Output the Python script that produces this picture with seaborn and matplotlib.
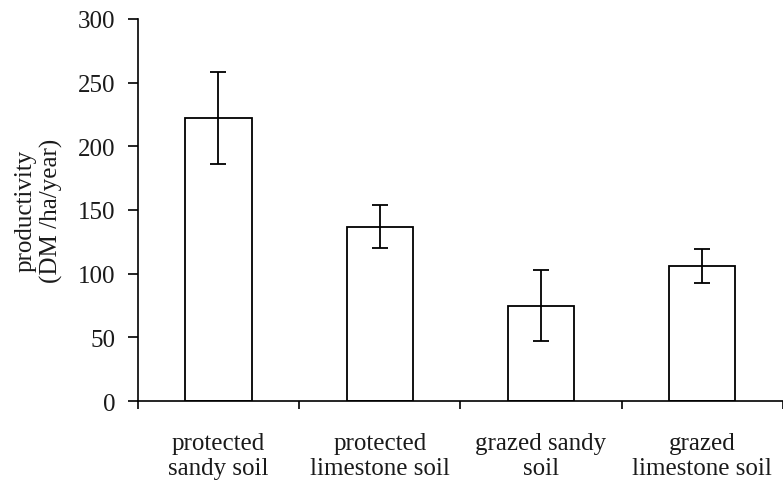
import matplotlib
matplotlib.use("Agg")
import matplotlib.pyplot as plt
import seaborn as sns
import pandas as pd

# Values
categories = ["protected\nsandy soil", "protected\nlimestone soil",
              "grazed sandy\nsoil", "grazed\nlimestone soil"]
productivity = [222, 137, 75, 106]
error = [36, 17, 28, 13]
yticks = [0, 50, 100, 150, 200, 250, 300]

df = pd.DataFrame({"category": categories, "productivity": productivity})

sns.set_style("white")
plt.rcParams['font.family'] = ['Liberation Serif', 'DejaVu Serif']

fig = plt.figure(figsize=(7.83, 4.85), dpi=100)
ax = fig.add_axes([0.176, 0.171, 0.824, 0.788])

sns.barplot(data=df, x="category", y="productivity", ax=ax,
            color="white", edgecolor="black", linewidth=1.3,
            width=0.41, errorbar=None)
ax.errorbar(x=range(len(categories)), y=productivity, yerr=error,
            fmt="none", ecolor="black", elinewidth=1.3, capsize=6, capthick=1.3)

ax.set_xlim(-0.5, 3.5)
ax.set_ylim(0, 300)
ax.set_yticks(yticks)
ax.set_yticklabels([str(v) for v in yticks], fontsize=18, color="#1a1a1a")

# category labels on minor ticks, tick marks at category boundaries
ax.set_xticks([-0.5, 0.5, 1.5, 2.5, 3.5])
ax.set_xticklabels([])
ax.set_xticks(range(len(categories)), minor=True)
ax.set_xticklabels(categories, minor=True, fontsize=18, color="#1a1a1a")
ax.tick_params(axis="x", which="major", direction="out", length=6, width=1.2, color="black", bottom=True)
ax.tick_params(axis="x", which="minor", length=0, pad=22)
ax.tick_params(axis="y", direction="out", length=7, width=1.2, color="black", pad=9, left=True)

ax.set_xlabel("")
ax.set_ylabel("productivity\n(DM /ha/year)", fontsize=18, color="#1a1a1a", labelpad=11)

for s in ["top", "right"]:
    ax.spines[s].set_visible(False)
for s in ["left", "bottom"]:
    ax.spines[s].set_color("black")
    ax.spines[s].set_linewidth(1.2)

fig.savefig("out.png", dpi=100)
plt.close()
